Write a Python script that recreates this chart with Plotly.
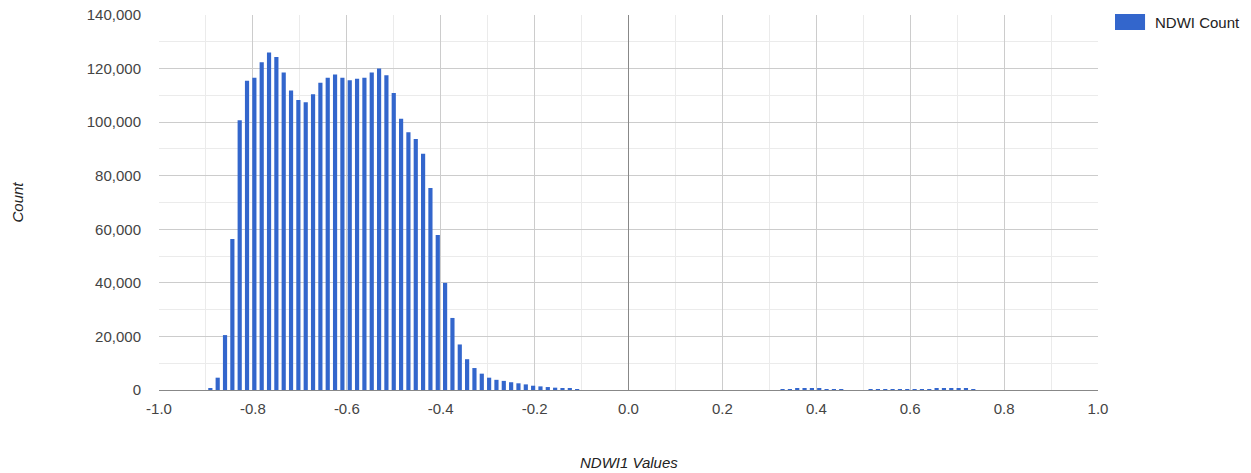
import plotly.graph_objects as go

# Histogram bucket positions (multiples of 1/64) and counts
bucket_index = list(range(-57, -6)) + list(range(21, 30)) + list(range(33, 48))
counts = [
    600, 4600, 20500, 56400, 100700, 115500, 116600, 122400, 126000, 124300,
    118500, 111800, 108300, 107400, 110400, 114700, 116600, 117800, 116600, 115600,
    116200, 116600, 118500, 120000, 117500, 110900, 101300, 96200, 93700, 88200,
    75400, 57900, 40000, 26900, 17000, 11500, 8200, 6100, 4600, 3800,
    3400, 2900, 2500, 2100, 1600, 1350, 1100, 870, 620, 380,
    150,
    100, 300, 450, 550, 550, 450, 350, 200, 100,
    80, 100, 120, 150, 200, 220, 250, 300, 350, 400, 500, 600, 550, 400, 150,
]
ndwi_values = [k / 64 for k in bucket_index]

x_tick_vals = [-1.0, -0.8, -0.6, -0.4, -0.2, 0.0, 0.2, 0.4, 0.6, 0.8, 1.0]
x_tick_text = ["-1.0", "-0.8", "-0.6", "-0.4", "-0.2", "0.0", "0.2", "0.4", "0.6", "0.8", "1.0"]
y_tick_vals = [0, 20000, 40000, 60000, 80000, 100000, 120000, 140000]

series_name = "NDWI Count"
bar_color = "#3366cc"
font_family = "Liberation Sans, Arial, sans-serif"

fig = go.Figure()
fig.add_trace(go.Bar(x=ndwi_values, y=counts, name=series_name,
                     marker=dict(color=bar_color, line=dict(width=0)),
                     showlegend=False))

fig.update_layout(
    width=1251, height=473,
    margin=dict(l=159, r=153, t=15, b=83, pad=0, autoexpand=False),
    paper_bgcolor="white", plot_bgcolor="white",
    bargap=0.43,
    font=dict(family=font_family, size=15, color="#444"),
    xaxis=dict(
        range=[-1, 1], tickvals=x_tick_vals, ticktext=x_tick_text,
        automargin=False,
        showgrid=True, gridcolor="#cccccc", gridwidth=1,
        minor=dict(dtick=0.1, tick0=-1, showgrid=True, gridcolor="#ebebeb", gridwidth=1),
        zeroline=True, zerolinecolor="#888888", zerolinewidth=1,
        ticks="outside", ticklen=5, tickcolor="rgba(0,0,0,0)",
        tickfont=dict(size=15, color="#444"), fixedrange=True,
    ),
    yaxis=dict(
        range=[0, 140000], tickvals=y_tick_vals, tickformat=",",
        automargin=False,
        showgrid=True, gridcolor="#cccccc", gridwidth=1,
        minor=dict(dtick=10000, tick0=0, showgrid=True, gridcolor="#ebebeb", gridwidth=1),
        zeroline=True, zerolinecolor="#888888", zerolinewidth=1,
        ticks="outside", ticklen=14, tickcolor="rgba(0,0,0,0)",
        tickfont=dict(size=15, color="#444"), fixedrange=True,
    ),
    annotations=[
        dict(text="<i>NDWI1 Values</i>", xref="paper", yref="paper", x=0.5, y=-0.192,
             xanchor="center", yanchor="middle", showarrow=False,
             font=dict(size=15, color="#222")),
        dict(text="<i>Count</i>", xref="paper", yref="paper", x=-0.1512, y=0.5,
             xanchor="center", yanchor="middle", showarrow=False, textangle=-90,
             font=dict(size=15, color="#222")),
        dict(text=series_name, xref="paper", yref="paper", x=1.0586, y=0.9813,
             xanchor="left", yanchor="middle", showarrow=False,
             font=dict(size=15, color="#222")),
    ],
    shapes=[
        dict(type="rect", xref="paper", yref="paper", x0=1.0181, x1=1.0501,
             y0=0.96, y1=1.0027, fillcolor=bar_color, line=dict(width=0)),
    ],
)

fig.write_html("out.html")
